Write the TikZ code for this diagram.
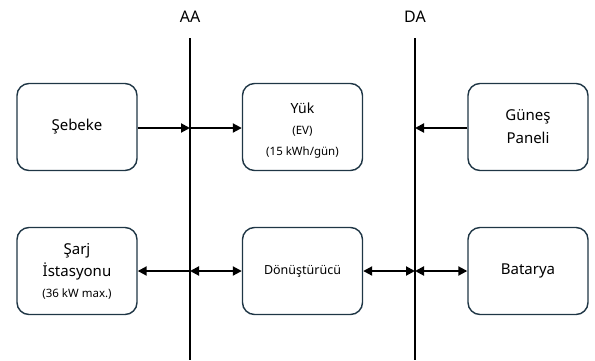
\documentclass[tikz,border=0pt]{standalone}
\usepackage{fontspec}
\setmainfont{Noto Sans}
\usepackage{xcolor}
\usepackage{tikz}
\usetikzlibrary{arrows.meta}

\definecolor{kenar}{HTML}{1F3645}

\begin{document}
\begin{tikzpicture}[x=1pt, y=-1pt,
    blok/.style={draw=kenar, line width=1.4pt, rounded corners=12pt,
      minimum width=120pt, minimum height=87pt, align=center,
      font=\fontsize{15}{23}\selectfont},
    bara/.style={line width=2.6pt, black},
    ok/.style={line width=2pt, -{Triangle[length=9pt, width=9pt]}},
    ciftok/.style={line width=2pt, {Triangle[length=9pt, width=9pt]}-{Triangle[length=9pt, width=9pt]}}]
  \useasboundingbox (0,0) rectangle (595,360);
  %% buses: AC on the left, DC on the right
  \coordinate (aaust) at (190,38);
  \coordinate (aaalt) at (190,360);
  \coordinate (daust) at (415,38);
  \coordinate (daalt) at (415,360);
  \draw[bara] (aaust) -- (aaalt);
  \draw[bara] (daust) -- (daalt);
  \node (aa) at (190,17) {\fontsize{16}{16}\selectfont AA};
  \node (da) at (415,17) {\fontsize{16}{16}\selectfont DA};
  %% top row
  \node[blok] (sebeke) at (77,127) {Şebeke};
  \node[blok, font=\fontsize{11.5}{21}\selectfont] (yuk) at (302.5,127)
    {\rule{0pt}{17pt}{\fontsize{14}{21}\selectfont Yük}\\(EV)\\(15 kWh/gün)};
  \node[blok] (gunes) at (528,127) {Güneş\\Paneli};
  %% bottom row
  \node[blok] (sarj) at (77,271) {Şarj\\[-1pt]İstasyonu\\[-2pt]
    {\fontsize{11.5}{20}\selectfont (36 kW max.)}};
  \node[blok] (donustur) at (302.5,271) {\fontsize{12.5}{14}\selectfont Dönüştürücü};
  \node[blok] (batarya) at (528,271) {Batarya};
  %% tap points on the buses
  \coordinate (aa1) at (190,128);
  \coordinate (aa2) at (190,271);
  \coordinate (da1) at (415,128);
  \coordinate (da2) at (415,271);
  %% power flows
  \draw[ok] (sebeke.east |- aa1) -- (aa1);
  \draw[ok] (aa1) -- (yuk.west |- aa1);
  \draw[ok] (gunes.west |- da1) -- (da1);
  \draw[ok] (aa2) -- (sarj.east |- aa2);
  \draw[ciftok] (aa2) -- (donustur.west |- aa2);
  \draw[ciftok] (donustur.east |- da2) -- (da2);
  \draw[ciftok] (da2) -- (batarya.west |- da2);
\end{tikzpicture}
\end{document}
